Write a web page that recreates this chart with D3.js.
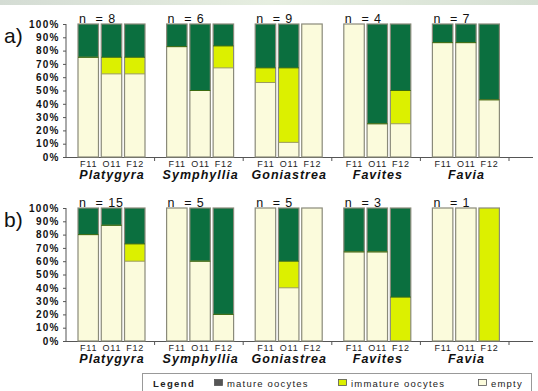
<!DOCTYPE html>
<html><head><meta charset="utf-8">
<script src="https://cdn.jsdelivr.net/npm/d3@7"></script>
<style>
body{margin:0;background:#fff;}
svg{display:block;font-family:"Liberation Sans",Arial,sans-serif;}
</style></head>
<body>
<script>
const genera = ["Platygyra","Symphyllia","Goniastrea","Favites","Favia"];
const periods = ["F11","O11","F12"];
const yTicks = [0,10,20,30,40,50,60,70,80,90,100];
const seriesNames = ["empty","immature oocytes","mature oocytes"];
// panel a
const nA = [8,6,9,4,7];
const emptyA =    [75,62.5,62.5, 83,50,67, 56,11,100, 100,25,25, 86,86,43];
const immatureA = [0,12.5,12.5,  0,0,16.5, 11,56,0,   0,0,25,   0,0,0];
const matureA =   [25,25,25,     17,50,16.5, 33,33,0, 0,75,50,  14,14,57];
// panel b
const nB = [15,5,5,3,1];
const emptyB =    [80,87,60, 100,60,20, 100,40,100, 67,67,0, 100,100,0];
const immatureB = [0,0,13,   0,0,0,     0,20,0,     0,0,33,  0,0,100];
const matureB =   [20,13,27, 0,40,80,   0,40,0,     33,33,67, 0,0,0];

const colors = {"empty":"#fbfbdc","immature oocytes":"#dcf000","mature oocytes":"#0b6f3f"};

const W=538,H=391;
const svg=d3.select("body").append("svg").attr("width",W).attr("height",H);
const defs=svg.append("defs");
const lg=defs.append("linearGradient").attr("id","topg").attr("x1",0).attr("x2",1);
lg.append("stop").attr("offset",0).attr("stop-color","#d4dcd4");
lg.append("stop").attr("offset",0.5).attr("stop-color","#e6eee0");
lg.append("stop").attr("offset",1).attr("stop-color","#d6e0d4");
svg.append("rect").attr("x",0).attr("y",0).attr("width",W).attr("height",5).attr("fill","url(#topg)");

const gx=d3.scaleBand().domain(genera).range([66,509]);
const px=d3.scaleBand().domain(periods).range([12,79]).paddingInner(0.12);

function panel(label, top, bottom, nArr, em, im, ma){
  const y=d3.scaleLinear().domain([0,100]).range([bottom,top]);
  const g=svg.append("g");
  // y axis
  const ya=g.append("g").attr("transform",`translate(66,0)`)
    .call(d3.axisLeft(y).tickValues(yTicks).tickSize(3).tickFormat(d=>d+"%"));
  ya.select(".domain").attr("stroke","#555").attr("d",`M0,${top}V${bottom}`);
  ya.selectAll(".tick line").attr("stroke","#555");
  ya.selectAll(".tick text").attr("font-size",10).attr("fill","#111")
    .attr("font-family","Liberation Sans, Arial, sans-serif").attr("x",-6.5)
    .attr("letter-spacing",1.2).style("font-weight","600");
  // x axis line
  g.append("line").attr("x1",66).attr("x2",533).attr("y1",bottom+0.5).attr("y2",bottom+0.5).attr("stroke","#555");
  genera.forEach((gn,i)=>{
    const x0=gx(gn)+gx.bandwidth();
    g.append("line").attr("x1",x0).attr("x2",x0).attr("y1",bottom).attr("y2",bottom+4).attr("stroke","#555");
  });
  // bars
  const rows=[];
  genera.forEach((gn,i)=>periods.forEach((p,j)=>{
    const k=i*3+j;
    rows.push({genus:gn,period:p,"empty":em[k],"immature oocytes":im[k],"mature oocytes":ma[k]});
  }));
  const stacked=d3.stack().keys(seriesNames)(rows);
  stacked.forEach(s=>{
    g.append("g").selectAll("rect").data(s).join("rect")
      .attr("x",d=>gx(d.data.genus)+px(d.data.period))
      .attr("width",px.bandwidth())
      .attr("y",d=>y(d[1]))
      .attr("height",d=>Math.max(0,y(d[0])-y(d[1])))
      .attr("fill",colors[s.key]);
  });
  g.append("g").selectAll("rect").data(rows).join("rect")
    .attr("x",d=>gx(d.genus)+px(d.period)).attr("width",px.bandwidth())
    .attr("y",y(100)).attr("height",y(0)-y(100))
    .attr("fill","none").attr("stroke","#8a8a7a").attr("stroke-width",1.2);
  stacked.slice(0,2).forEach(s=>{
    g.append("g").selectAll("line").data(s.filter(d=>d[1]>0&&d[1]<100)).join("line")
      .attr("x1",d=>gx(d.data.genus)+px(d.data.period)).attr("x2",d=>gx(d.data.genus)+px(d.data.period)+px.bandwidth())
      .attr("y1",d=>y(d[1])).attr("y2",d=>y(d[1]))
      .attr("stroke",s.key==="empty"?"#9a9a60":"#3a6a10").attr("stroke-width",1);
  });
  rows.forEach(d=>{
    g.append("text").attr("x",gx(d.genus)+px(d.period)+px.bandwidth()/2+0.4).attr("y",bottom+9.5)
      .attr("text-anchor","middle").attr("font-size",9).attr("fill","#222").attr("letter-spacing",0.8).text(d.period);
  });
  genera.forEach(gn=>{
    g.append("text").attr("x",gx(gn)+px.range()[0]+(px.range()[1]-px.range()[0])/2+0.5).attr("y",bottom+21.5)
      .attr("text-anchor","middle").attr("font-size",12.5).attr("font-weight","bold").attr("font-style","italic")
      .attr("letter-spacing",1).attr("fill","#111").text(gn);
    const i=genera.indexOf(gn);
    g.append("text").attr("x",gx(gn)+px("F11")+1).attr("y",top-1.5)
      .attr("font-size",12.5).attr("letter-spacing",0.9).attr("fill","#111").attr("xml:space","preserve").text("n  = "+nArr[i]);
  });
  g.append("text").attr("x",4).attr("y",top+19).attr("font-size",21).attr("fill","#111").text(label);
}
panel("a)",24,157,nA,emptyA,immatureA,matureA);
panel("b)",208,341,nB,emptyB,immatureB,matureB);

// legend
const leg=svg.append("g");
leg.append("rect").attr("x",142.5).attr("y",373.5).attr("width",389).attr("height",22).attr("fill","#fff").attr("stroke","#999");
leg.append("text").attr("x",153).attr("y",387).attr("font-size",9.5).attr("font-weight","bold").attr("letter-spacing",1.4).attr("fill","#222").text("Legend");
const legItems=[{k:"mature oocytes",x:214,c:"#555"},{k:"immature oocytes",x:338,c:colors["immature oocytes"]},{k:"empty",x:478,c:colors["empty"]}];
legItems.forEach(it=>{
  leg.append("rect").attr("x",it.x+0.5).attr("y",379.5).attr("width",8).attr("height",6).attr("fill",it.c).attr("stroke","#555").attr("stroke-width",0.8);
  leg.append("text").attr("x",it.x+13).attr("y",387).attr("font-size",9.5).attr("letter-spacing",1.2).attr("fill","#222").text(it.k);
});
</script>
</body></html>
